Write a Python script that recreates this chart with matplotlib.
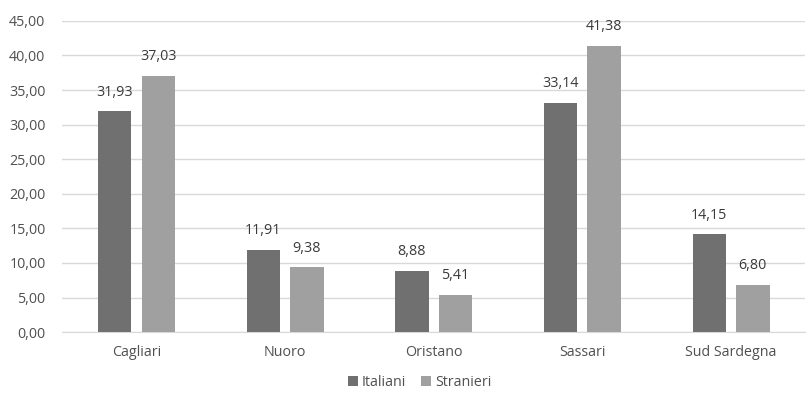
import numpy as np
import matplotlib.pyplot as plt
from matplotlib.ticker import FuncFormatter

province = ['Cagliari', 'Nuoro', 'Oristano', 'Sassari', 'Sud Sardegna']
italiani = [31.93, 11.91, 8.88, 33.14, 14.15]
stranieri = [37.03, 9.38, 5.41, 41.38, 6.80]

plt.rcParams['font.family'] = ['Open Sans', 'DejaVu Sans']
testo = '#505050'

fig = plt.figure(figsize=(8.07, 3.94), dpi=100)
ax = fig.add_axes([0.077, 0.157, 0.921, 0.79])

x = np.arange(len(province))
w = 0.225
b1 = ax.bar(x - w / 2 - 0.034, italiani, w, color='#707070', label='Italiani', zorder=3)
b2 = ax.bar(x + w / 2 + 0.034, stranieri, w, color='#a0a0a0', label='Stranieri', zorder=3)

fmt = lambda v: f'{v:.2f}'.replace('.', ',')
for bars in (b1, b2):
    for r in bars:
        h = r.get_height()
        ax.text(r.get_x() + r.get_width() / 2, h + 1.7, fmt(h), ha='center', va='bottom',
                fontsize=10.3, color='#3a3a3a')

ax.set_xlim(-0.5, 4.5)
ax.set_ylim(0, 45)
ax.set_yticks(np.arange(0, 46, 5))
ax.yaxis.set_major_formatter(FuncFormatter(lambda v, p: fmt(v)))
ax.set_xticks(x)
ax.set_xticklabels(province)
ax.grid(axis='y', color='#d9d9d9', linewidth=1, zorder=0)
for s in ['top', 'right', 'left']:
    ax.spines[s].set_visible(False)
ax.spines['bottom'].set_color('#d9d9d9')
ax.tick_params(length=0, colors=testo, labelsize=10.3)
ax.tick_params(axis='x', pad=9)
ax.tick_params(axis='y', pad=12)

fig.legend(loc='center', bbox_to_anchor=(0.52, 0.03), ncol=2, frameon=False,
           fontsize=10.3, labelcolor=testo, handlelength=0.7, handleheight=0.7,
           handletextpad=0.3, columnspacing=1.0)

fig.savefig('out.png', dpi=100)
